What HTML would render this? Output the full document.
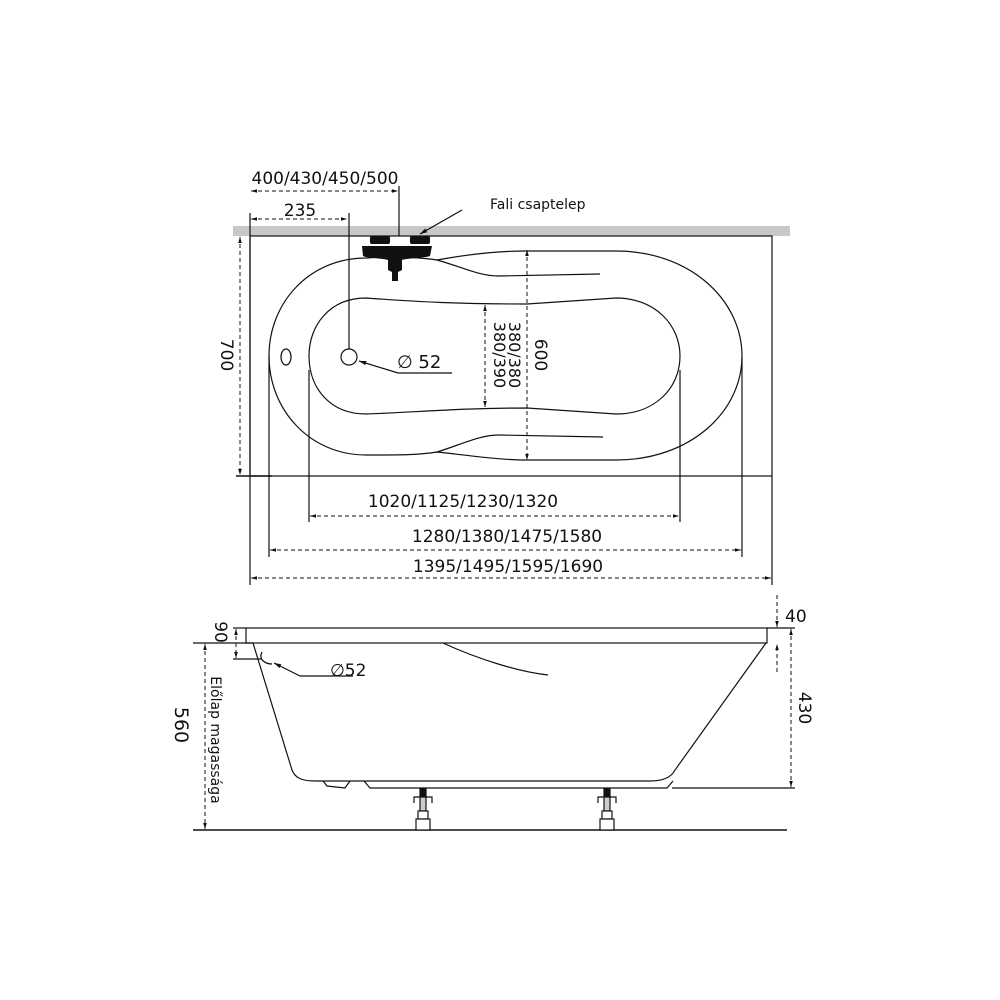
<!DOCTYPE html>
<html><head><meta charset="utf-8"><style>
html,body{margin:0;padding:0;background:#fff}
svg{display:block}
text{font-family:"DejaVu Sans","Liberation Sans",sans-serif;fill:#111}
</style></head><body>
<svg width="1000" height="1000" viewBox="0 0 1000 1000" xmlns="http://www.w3.org/2000/svg">
<defs>
<marker id="a" viewBox="0 0 10 10" refX="10" refY="5" markerWidth="6" markerHeight="6" orient="auto-start-reverse"><path d="M0,2 L10,5 L0,8z" fill="#111"/></marker>
</defs>
<g stroke="#111" fill="none" stroke-width="1.2">
<rect x="233" y="226" width="557" height="10" fill="#c8c8c8" stroke="none"/>
<rect x="250" y="236" width="522" height="240"/>
<line x1="236" y1="476" x2="272" y2="476" stroke-width="1.6"/>
<!-- outer -->
<path d="M366,258 C400,256 425,258 437,260 C470,254 500,251 526,251 L616,251 C690,251 742,300 742,356 C742,412 690,460 616,460 L526,460 C500,460 465,455 437,452 C420,455 400,455 366,455 C310,455 269,410 269,356 C269,302 310,258 366,258Z"/>
<path d="M437,260 C465,268 480,276 498,276 L600,274"/>
<path d="M437,452 C460,445 480,435 498,435 L603,437"/>
<!-- inner -->
<path d="M366,298 C420,302 460,304 527,304 L616,298 C655,298 680,325 680,356 C680,388 655,414 616,414 L527,408 C460,408 420,412 366,414 C330,414 309,388 309,356 C309,325 330,298 366,298Z"/>
<ellipse cx="286" cy="357" rx="5" ry="8"/>
<circle cx="349" cy="357" r="8"/>
<line x1="250" y1="213" x2="250" y2="585"/>
<line x1="269" y1="356" x2="269" y2="557"/>
<line x1="309" y1="370" x2="309" y2="522"/>
<line x1="680" y1="370" x2="680" y2="522"/>
<line x1="742" y1="357" x2="742" y2="557"/>
<line x1="772" y1="476" x2="772" y2="585"/>
<line x1="399" y1="186" x2="399" y2="236"/>
<line x1="349" y1="213" x2="349" y2="349"/>
<g stroke-dasharray="4,3" stroke-width="1" marker-start="url(#a)" marker-end="url(#a)">
<line x1="251" y1="191" x2="398" y2="191"/>
<line x1="251" y1="219" x2="347" y2="219"/>
<line x1="310" y1="516" x2="679" y2="516"/>
<line x1="270" y1="550" x2="741" y2="550"/>
<line x1="251" y1="578" x2="771" y2="578"/>
<line x1="240" y1="237" x2="240" y2="475"/>
<line x1="527" y1="250" x2="527" y2="460"/>
<line x1="485" y1="305" x2="485" y2="407"/>
</g>
<line x1="398" y1="373" x2="452" y2="373"/>
<line x1="398" y1="373" x2="359" y2="361" marker-end="url(#a)"/>
<line x1="462" y1="210" x2="420" y2="234" marker-end="url(#a)"/>
</g>
<g fill="#111">
<rect x="370" y="236" width="20" height="8" rx="2"/>
<rect x="410" y="236" width="20" height="8" rx="2"/>
<path d="M362,246 L432,246 L430,256 C425,258 408,258 402,260 L402,270 L398,272 L398,281 L392,281 L392,272 L388,270 L388,260 C380,258 366,258 363,256Z"/>
</g>
<text x="325" y="184" font-size="17" text-anchor="middle">400/430/450/500</text>
<text x="300" y="216" font-size="17" text-anchor="middle">235</text>
<text x="490" y="209" font-size="14">Fali csaptelep</text>
<text x="397" y="368" font-size="18">∅ 52</text>
<text x="463" y="507" font-size="17" text-anchor="middle">1020/1125/1230/1320</text>
<text x="507" y="542" font-size="17" text-anchor="middle">1280/1380/1475/1580</text>
<text x="508" y="572" font-size="17" text-anchor="middle">1395/1495/1595/1690</text>
<text transform="translate(221,355) rotate(90)" font-size="17" text-anchor="middle">700</text>
<text transform="translate(535,355) rotate(90)" font-size="17" text-anchor="middle">600</text>
<text transform="translate(494,355) rotate(90)" font-size="16" text-anchor="middle">380/390</text>
<text transform="translate(509,355) rotate(90)" font-size="16" text-anchor="middle">380/380</text>

<g stroke="#111" fill="none" stroke-width="1.2">
<rect x="246" y="628" width="521" height="15"/>
<path d="M253,643 L292,770 C295,778 302,781 315,781 L650,781 C665,781 672,776 675,770 L766,643"/>
<path d="M323,781 L327,786 L345,788 L350,781"/>
<path d="M364,781 L370,788 L667,788 L673,781"/>
<path d="M443,643 C480,660 520,672 548,675"/>
<line x1="193" y1="830" x2="787" y2="830" stroke-width="1.4"/>
<line x1="193" y1="643" x2="253" y2="643"/>
<line x1="233" y1="628" x2="246" y2="628"/>
<line x1="233" y1="659" x2="262" y2="659"/>
<line x1="767" y1="628" x2="795" y2="628"/>
<line x1="672" y1="788" x2="795" y2="788"/>
<path d="M262,652 C258,660 266,664 272,664"/>
<line x1="300" y1="676" x2="353" y2="676"/>
<line x1="300" y1="676" x2="274" y2="663" marker-end="url(#a)"/>
<g stroke-dasharray="4,3" stroke-width="1">
<line x1="236" y1="629" x2="236" y2="658" marker-start="url(#a)" marker-end="url(#a)"/>
<line x1="205" y1="644" x2="205" y2="829" marker-start="url(#a)" marker-end="url(#a)"/>
<line x1="791" y1="629" x2="791" y2="787" marker-start="url(#a)" marker-end="url(#a)"/>
<line x1="777" y1="595" x2="777" y2="627" marker-end="url(#a)"/>
<line x1="777" y1="672" x2="777" y2="644" marker-end="url(#a)"/>
</g>
</g>
<g id="f" stroke="#111" fill="#fff" stroke-width="1.2">
<rect x="420" y="789" width="6" height="8" fill="#111"/>
<path d="M414,803 L414,797 L432,797 L432,803" fill="none"/>
<rect x="420" y="797" width="6" height="14" fill="#ccc"/>
<rect x="418" y="811" width="10" height="8"/>
<rect x="416" y="819" width="14" height="11"/>
</g>
<use href="#f" x="184"/>
<text x="330" y="676" font-size="17">∅52</text>
<text x="785" y="622" font-size="17">40</text>
<text transform="translate(215,632) rotate(90)" font-size="17" text-anchor="middle">90</text>
<text transform="translate(175,725) rotate(90)" font-size="19" text-anchor="middle">560</text>
<text transform="translate(211,740) rotate(90)" font-size="14" text-anchor="middle">Előlap magassága</text>
<text transform="translate(799,708) rotate(90)" font-size="17" text-anchor="middle">430</text>
</svg>
</body></html>
